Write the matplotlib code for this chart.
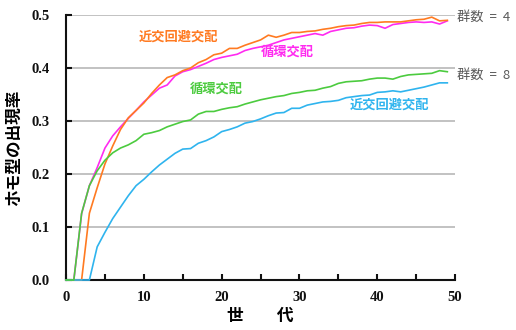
import numpy as np
import matplotlib
matplotlib.use("Agg")
import matplotlib.pyplot as plt
from matplotlib.ticker import MultipleLocator

JP = ["Noto Sans CJK JP", "DejaVu Sans"]

generations = np.arange(0, 50)

# 群数 = 4
avoid_4 = [0, 0, 0, 0.126, 0.174, 0.219, 0.253, 0.284, 0.306, 0.320,
           0.334, 0.352, 0.368, 0.382, 0.387, 0.395, 0.400, 0.410, 0.416, 0.425,
           0.428, 0.437, 0.437, 0.443, 0.448, 0.453, 0.462, 0.458, 0.462, 0.467,
           0.467, 0.469, 0.470, 0.473, 0.475, 0.478, 0.480, 0.481, 0.484, 0.486,
           0.486, 0.487, 0.487, 0.487, 0.489, 0.491, 0.492, 0.496, 0.489, 0.490]
cyclic_4 = [0, 0, 0.125, 0.178, 0.212, 0.249, 0.272, 0.289, 0.305, 0.320,
            0.336, 0.349, 0.362, 0.368, 0.385, 0.393, 0.397, 0.403, 0.409, 0.416,
            0.420, 0.423, 0.426, 0.433, 0.437, 0.440, 0.443, 0.448, 0.453, 0.456,
            0.459, 0.462, 0.465, 0.462, 0.469, 0.472, 0.475, 0.476, 0.479, 0.481,
            0.480, 0.475, 0.482, 0.484, 0.486, 0.487, 0.486, 0.487, 0.483, 0.489]

# 群数 = 8
cyclic_8 = [0, 0, 0.126, 0.178, 0.206, 0.226, 0.240, 0.249, 0.255, 0.263,
            0.275, 0.278, 0.282, 0.289, 0.294, 0.299, 0.302, 0.313, 0.318, 0.318,
            0.322, 0.325, 0.327, 0.332, 0.336, 0.340, 0.343, 0.346, 0.348, 0.352,
            0.354, 0.357, 0.358, 0.362, 0.365, 0.371, 0.374, 0.375, 0.376, 0.379,
            0.381, 0.381, 0.379, 0.384, 0.387, 0.388, 0.389, 0.390, 0.395, 0.393]
avoid_8 = [0, 0, 0, 0, 0.0625, 0.090, 0.116, 0.1375, 0.159, 0.178,
           0.190, 0.204, 0.217, 0.228, 0.239, 0.247, 0.248, 0.258, 0.263, 0.270,
           0.280, 0.284, 0.289, 0.296, 0.299, 0.304, 0.310, 0.315, 0.316, 0.324,
           0.324, 0.330, 0.333, 0.336, 0.337, 0.339, 0.344, 0.346, 0.348, 0.349,
           0.354, 0.355, 0.357, 0.355, 0.358, 0.361, 0.364, 0.368, 0.372, 0.372]

C_ORANGE = "#ff7a21"
C_MAGENTA = "#ff2bf0"
C_GREEN = "#4ccb3f"
C_BLUE = "#2fb4ee"

fig = plt.figure(figsize=(5.16, 3.30), dpi=100)
ax = fig.add_axes([0.128, 0.1515, 0.754, 0.803])

for y in [0.1, 0.2, 0.3, 0.4, 0.5]:
    ax.axhline(y, color="#bdbdbd", lw=1.3, zorder=1)

ax.plot(generations, cyclic_4, color=C_MAGENTA, lw=1.2, zorder=3, clip_on=False)
ax.plot(generations, avoid_4, color=C_ORANGE, lw=1.2, zorder=3, clip_on=False)
ax.plot(generations, avoid_8, color=C_BLUE, lw=1.2, zorder=3, clip_on=False)
ax.plot(generations, cyclic_8, color=C_GREEN, lw=1.2, zorder=3, clip_on=False)

ax.set_xlim(0, 50)
ax.set_ylim(0, 0.5)
ax.xaxis.set_major_locator(MultipleLocator(10))
ax.xaxis.set_minor_locator(MultipleLocator(5))
ax.yaxis.set_major_locator(MultipleLocator(0.1))
ax.yaxis.set_major_formatter(matplotlib.ticker.FormatStrFormatter("%.1f"))

for s in ["top", "right"]:
    ax.spines[s].set_visible(False)
for s in ["left", "bottom"]:
    ax.spines[s].set_linewidth(1.5)
    ax.spines[s].set_color("#111111")

ax.tick_params(axis="both", which="both", direction="in", length=4, width=1.5,
               colors="#111111")
ax.tick_params(axis="x", pad=8)
ax.tick_params(axis="y", pad=12)
for lab in ax.get_xticklabels() + ax.get_yticklabels():
    lab.set_fontfamily("Liberation Serif")
    lab.set_fontweight("bold")
    lab.set_fontsize(10.5)

ax.set_xlabel("世　　代", fontfamily=JP, fontweight="bold", fontsize=12, labelpad=2)
ax.set_ylabel("ホモ型の出現率", fontfamily=JP, fontweight="bold", fontsize=12, labelpad=6)

txt = dict(fontfamily=JP, fontweight="bold", fontsize=9.5, ha="center", va="center")
ax.text(14.4, 0.460, "近交回避交配", color=C_ORANGE, **txt)
ax.text(28.5, 0.430, "循環交配", color=C_MAGENTA, **txt)
ax.text(19.3, 0.362, "循環交配", color=C_GREEN, **txt)
ax.text(41.6, 0.330, "近交回避交配", color=C_BLUE, **txt)

side = dict(fontfamily=JP, fontsize=9.5, color="#5a5a5a", ha="left", va="center",
            transform=ax.transData, clip_on=False)
ax.text(50.2, 0.496, "群数  =  4", **side)
ax.text(50.2, 0.386, "群数  =  8", **side)

fig.savefig("out.png", dpi=100)
